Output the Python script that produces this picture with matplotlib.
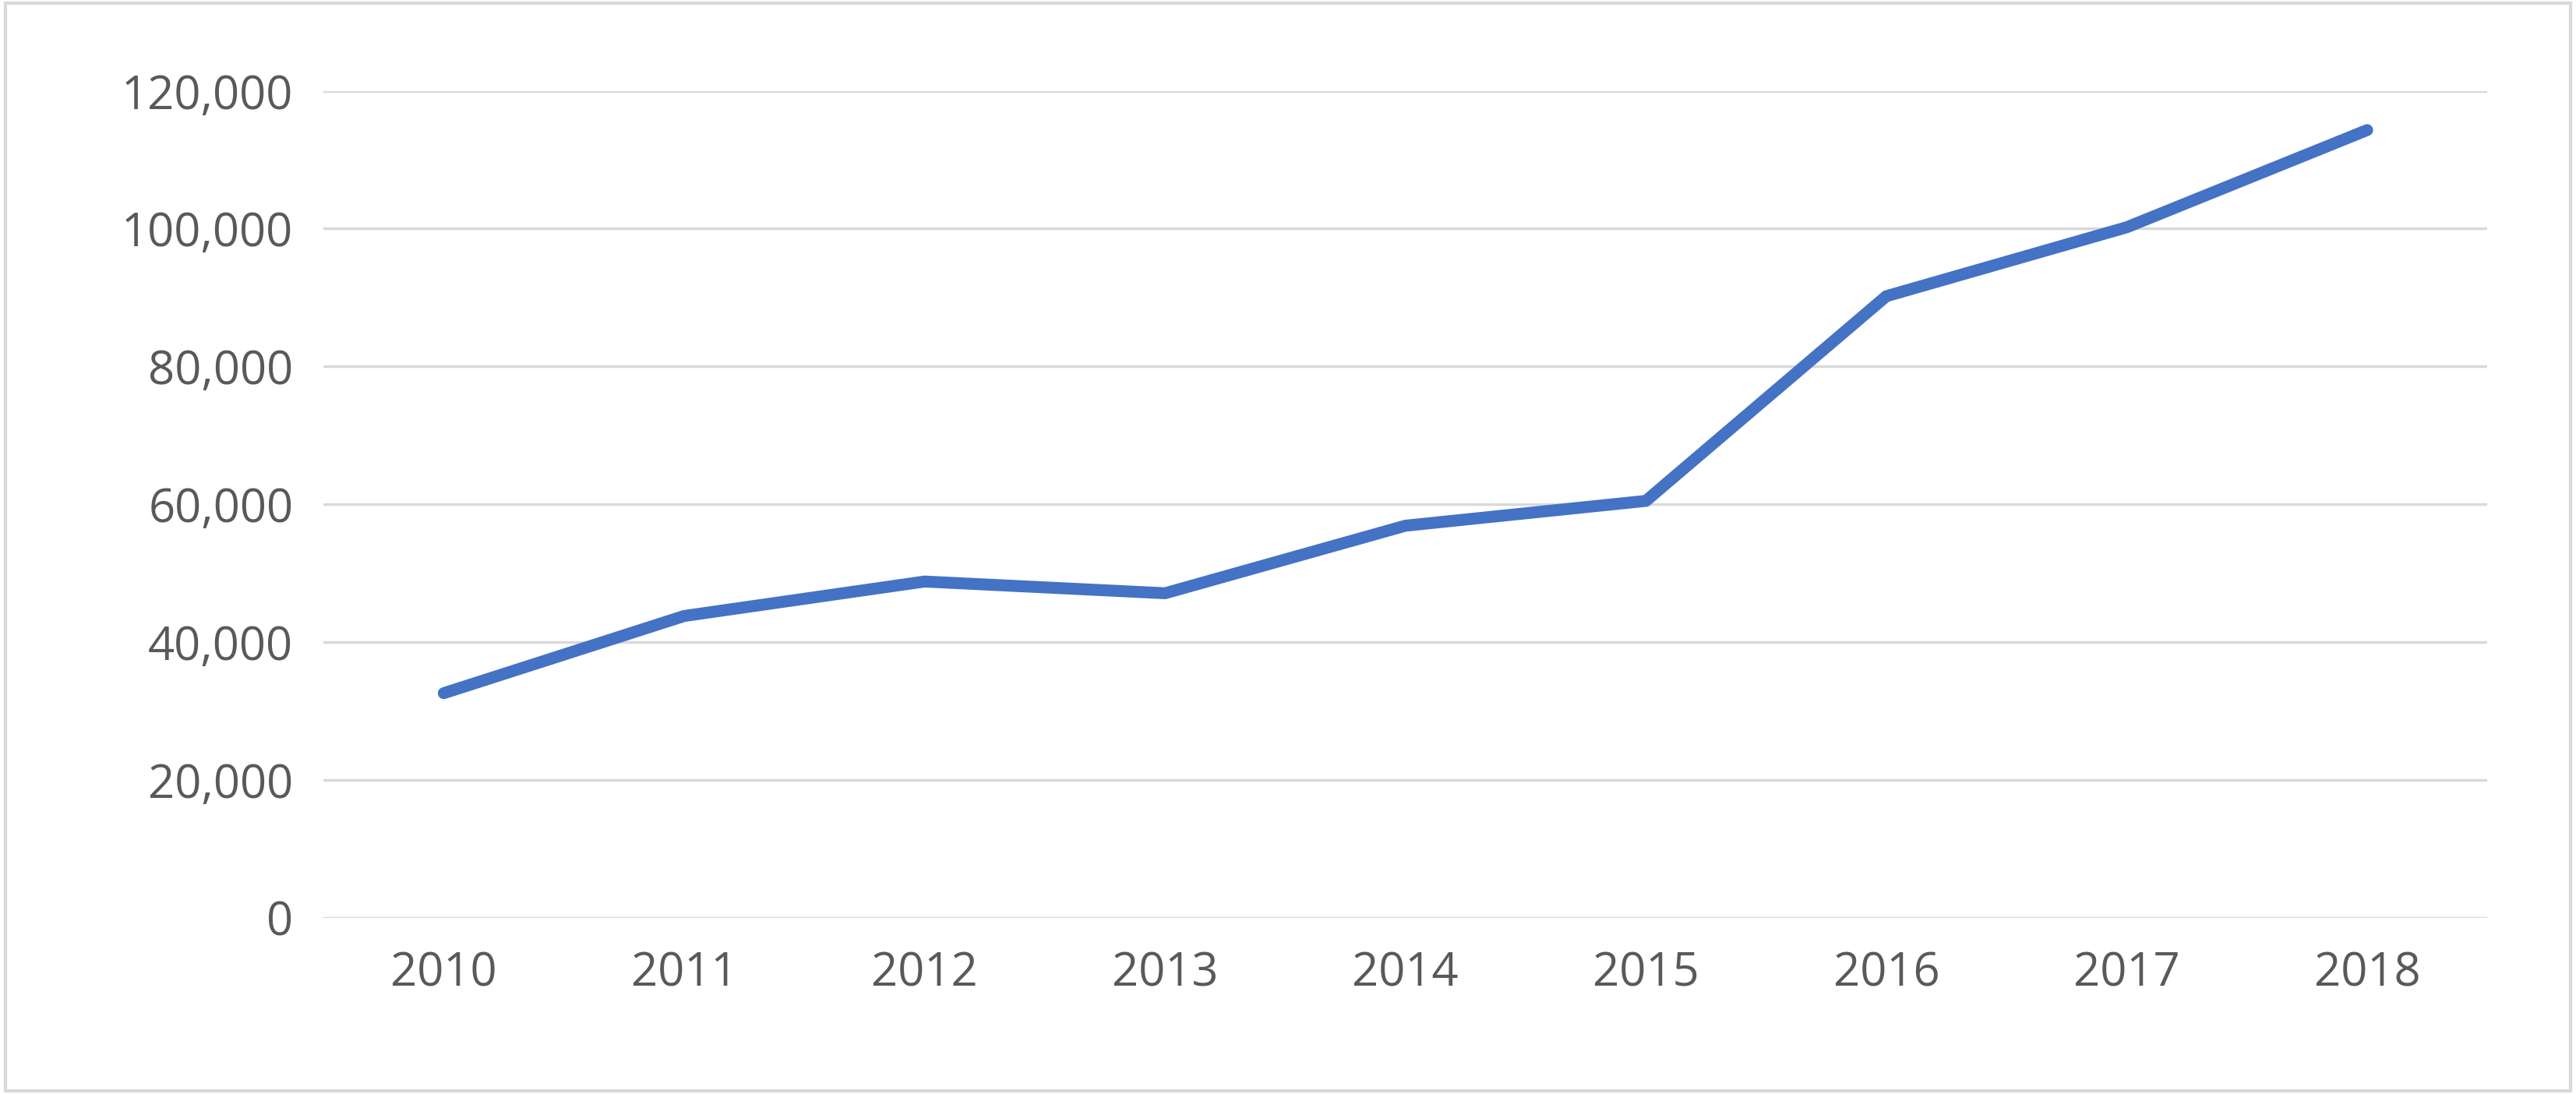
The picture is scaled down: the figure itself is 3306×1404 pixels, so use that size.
import matplotlib
matplotlib.use("Agg")
import matplotlib.pyplot as plt
from matplotlib.ticker import FuncFormatter
from matplotlib.patches import Rectangle

years = ["2010", "2011", "2012", "2013", "2014", "2015", "2016", "2017", "2018"]
values = [32600, 43800, 48800, 47100, 56900, 60500, 90200, 100200, 114300]
yticks = [0, 20000, 40000, 60000, 80000, 100000, 120000]

plt.rcParams['font.family'] = ['Open Sans', 'DejaVu Sans']
fig = plt.figure(figsize=(33.06, 14.04), dpi=100)
ax = fig.add_axes([0.1256, 0.161, 0.84, 0.756])
x = list(range(len(years)))
ax.plot(x, values, color="#4472C4", lw=11, solid_capstyle="round", solid_joinstyle="round", zorder=3)
ax.set_xlim(-0.5, len(years) - 0.5)
ax.set_ylim(0, 120000)
ax.set_yticks(yticks)
ax.yaxis.set_major_formatter(FuncFormatter(lambda v, p: f"{int(v):,}"))
ax.set_xticks(x)
ax.set_xticklabels(years)
ax.grid(axis="y", color="#D9D9D9", lw=2.5)
ax.set_axisbelow(True)
for s in ax.spines.values():
    s.set_visible(False)
ax.tick_params(length=0, labelsize=43, colors="#595959")
ax.tick_params(axis="y", pad=28)
ax.tick_params(axis="x", pad=30)
fig.patches.append(Rectangle((0.002, 0.003), 0.996, 0.994, transform=fig.transFigure,
                             fill=False, edgecolor="#D9D9D9", lw=3))
fig.savefig("out.png", dpi=100)
